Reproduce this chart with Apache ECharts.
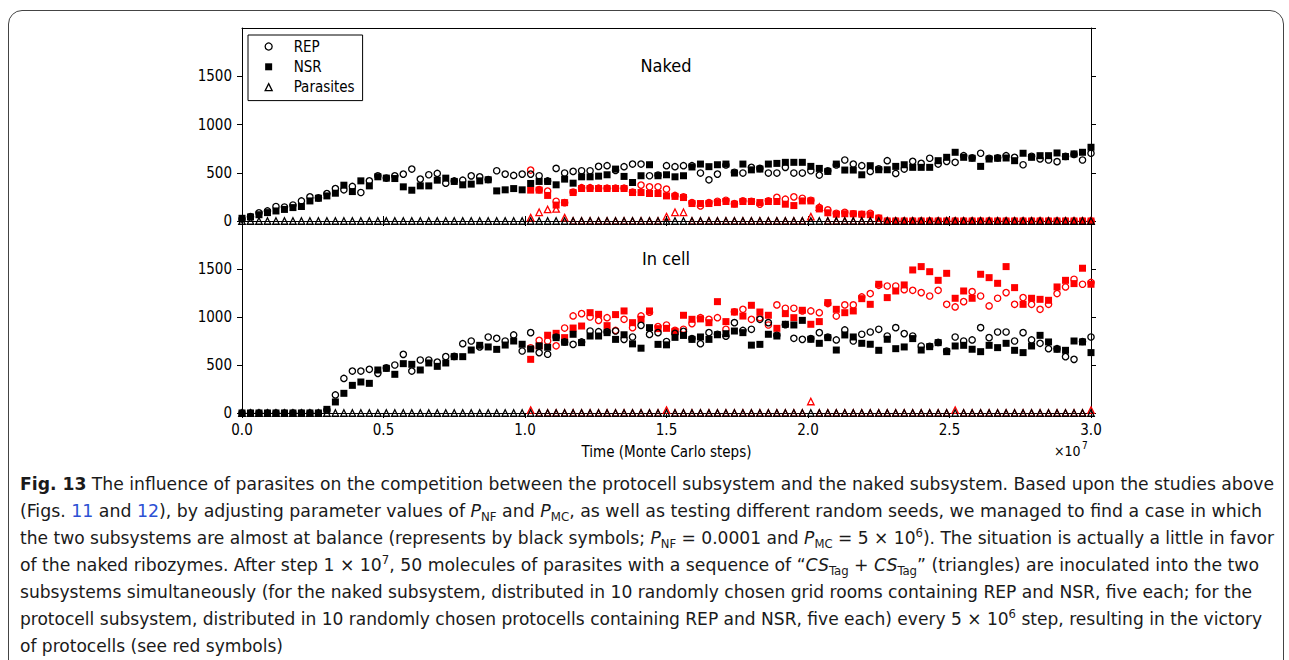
<!DOCTYPE html>
<html>
<head>
<meta charset="utf-8">
<script src="https://cdn.jsdelivr.net/npm/echarts@6.0.0/dist/echarts.min.js"></script>
<style>
  html, body { margin: 0; padding: 0; background: #fff; width: 1289px; height: 660px; overflow: hidden; }
  #frame { position: absolute; left: 8px; top: 10px; width: 1274px; height: 700px; border: 1.5px solid #444; border-radius: 14px; }
  #chart { position: absolute; left: 0; top: 0; width: 1289px; height: 470px; }
  #cap { position: absolute; left: 20px; top: 0; font-family: 'DejaVu Sans Condensed', 'DejaVu Sans', sans-serif; font-size: 18.5px; color: #1a1a1a; }
  .ln { position: absolute; left: 0; white-space: nowrap; line-height: 20px; height: 20px; transform-origin: 0 50%; }
  .ln b { font-weight: bold; }
  .ln a { color: #2c50d4; text-decoration: none; }
  .ln sub, .ln sup { font-size: 0.68em; line-height: 0; }
  .ln sub { vertical-align: -0.35em; }
  .ln sup { vertical-align: 0.55em; }
</style>
</head>
<body>
<div id="frame"></div>
<div id="chart"></div>
<div id="cap">
  <div class="ln" data-w="1254" style="top:474px"><b>Fig. 13</b> The influence of parasites on the competition between the protocell subsystem and the naked subsystem. Based upon the studies above</div>
  <div class="ln" data-w="1242" style="top:501px">(Figs. <a>11</a> and <a>12</a>), by adjusting parameter values of <i>P</i><sub>NF</sub> and <i>P</i><sub>MC</sub>, as well as testing different random seeds, we managed to find a case in which</div>
  <div class="ln" data-w="1254" style="top:528px">the two subsystems are almost at balance (represents by black symbols; <i>P</i><sub>NF</sub> = 0.0001 and <i>P</i><sub>MC</sub> = 5 × 10<sup>6</sup>). The situation is actually a little in favor</div>
  <div class="ln" data-w="1239" style="top:555px">of the naked ribozymes. After step 1 × 10<sup>7</sup>, 50 molecules of parasites with a sequence of “<i>CS</i><sub>Tag</sub> + <i>CS</i><sub>Tag</sub>” (triangles) are inoculated into the two</div>
  <div class="ln" data-w="1232" style="top:582px">subsystems simultaneously (for the naked subsystem, distributed in 10 randomly chosen grid rooms containing REP and NSR, five each; for the</div>
  <div class="ln" data-w="1242" style="top:609px">protocell subsystem, distributed in 10 randomly chosen protocells containing REP and NSR, five each) every 5 × 10<sup>6</sup> step, resulting in the victory</div>
  <div class="ln" data-w="263" style="top:636px">of protocells (see red symbols)</div>
</div>
<script>
// ---------------- DATA ----------------
// Samples every 3e5 Monte Carlo steps (x axis in units of 1e7), k = 0..100
const SAMPLE_STEP = 0.03;       // ×1e7
const N_SAMPLES = 101;
const INOCULATION_INDEX = 34;   // first sample of the "with parasites" (red) runs
const xTickLabels = ['0.0', '0.5', '1.0', '1.5', '2.0', '2.5', '3.0'];
const yTickLabels = ['0', '500', '1000', '1500'];

// Naked subsystem, no parasites (black)
const nakedREP = [20,45,85,104,150,145,166,208,250,240,284,336,323,358,295,416,468,445,468,486,538,434,479,493,392,415,423,468,458,430,521,486,472,486,
  486,469,415,545,497,514,521,521,566,573,525,563,590,590,469,475,573,563,573,573,497,427,486,580,505,497,556,545,497,497,556,497,497,
  521,476,520,580,632,590,573,514,540,625,493,538,618,597,650,590,618,608,677,655,702,650,655,677,660,583,670,643,632,615,670,690,632,702];
const nakedNSR = [28,42,65,87,104,120,139,150,208,236,260,288,371,305,416,364,458,444,440,354,319,364,364,423,444,410,375,382,416,427,312,323,336,323,
  389,410,410,375,434,392,458,458,465,479,538,462,399,469,583,469,479,458,469,560,590,563,583,590,497,590,530,538,590,597,608,608,608,
  566,545,514,590,528,528,479,573,531,531,566,583,556,556,556,625,660,712,660,650,566,642,650,653,625,702,660,677,677,705,667,695,712,764];
const nakedPar = [0,0,0,0,0,0,0,0,0,0,0,0,0,0,0,0,0,0,0,0,0,0,0,0,0,0,0,0,0,0,0,0,0,0,
  0,0,0,0,0,0,0,0,0,0,0,0,0,0,0,0,0,0,0,0,0,0,0,0,0,0,0,0,0,0,0,0,0,
  0,0,0,0,0,0,0,0,0,0,0,0,0,0,0,0,0,0,0,0,0,0,0,0,0,0,0,0,0,0,0,0,0,0];

// Naked subsystem, parasites inoculated (red), from sample 34 on
const nakedREPp = [528,325,310,205,190,300,345,345,340,340,340,340,300,372,354,354,330,265,250,190,156,190,205,215,180,210,205,175,210,245,226,250,236,215,140,115,80,90,75,70,80,30,
  0,0,0,0,0,0,0,0,0,0,0,0,0,0,0,0,0,0,0,0,0,0,0,0,0];
const nakedNSRp = [320,320,265,165,190,295,337,337,337,337,337,337,295,295,285,285,260,255,243,181,181,181,191,202,174,202,202,191,202,202,174,160,208,208,125,85,70,75,75,70,65,30,
  0,0,0,0,0,0,0,0,0,0,0,0,0,0,0,0,0,0,0,0,0,0,0,0,0];
const nakedParp = [35,90,120,125,35,0,0,0,0,0,0,0,0,0,0,0,45,90,90,0,0,0,0,0,0,0,0,0,0,0,0,0,0,45,145,
  0,0,0,0,0,0,0,0,0,0,0,0,0,0,0,0,0,0,0,0,0,0,0,0,0,0,0,0,0,0,0,0];

// Protocell (in cell) subsystem, no parasites (black)
const cellREP = [0,0,0,0,0,0,0,0,0,0,30,188,360,437,437,455,413,470,500,611,437,552,552,530,587,590,722,750,688,792,778,750,813,646,
  837,629,612,790,740,715,740,854,847,845,854,767,792,913,819,837,745,830,850,775,722,837,820,800,941,860,872,976,941,810,920,778,767,
  775,837,790,761,865,750,820,844,872,802,889,827,802,698,695,735,645,792,750,761,889,785,844,844,750,837,761,726,670,670,587,559,745,792];
const cellNSR = [0,0,0,0,0,0,0,0,0,0,38,115,205,288,323,309,448,465,403,514,507,448,521,486,521,587,587,656,705,688,663,708,750,716,
  667,698,685,785,737,820,733,802,802,837,767,815,720,675,889,715,710,788,808,767,792,767,815,826,854,837,707,715,820,802,924,917,965,
  768,726,785,656,813,792,726,716,653,768,670,688,775,656,691,733,639,698,705,664,639,705,681,726,653,629,698,809,740,664,653,750,740,629];
const cellPar = [0,0,0,0,0,0,0,0,0,0,0,0,0,0,0,0,0,0,0,0,0,0,0,0,0,0,0,0,0,0,0,0,0,0,
  0,0,0,0,0,0,0,0,0,0,0,0,0,0,0,0,0,0,0,0,0,0,0,0,0,0,0,0,0,0,0,0,0,
  0,0,0,0,0,0,0,0,0,0,0,0,0,0,0,0,0,0,0,0,0,0,0,0,0,0,0,0,0,0,0,0,0,0];

// Protocell subsystem, parasites inoculated (red), from sample 34 on (k = 34 .. 100)
const cellREPp = [680,757,750,700,885,1011,1035,1000,965,993,860,976,889,1011,1050,900,
  917,861,872,931,993,976,993,872,1055,1080,976,993,917,1126,1091,1091,1063,1063,1045,1140,1010,1126,1126,1209,1244,1330,1323,1323,1285,1278,
  1254,1219,1278,1132,1105,1160,1264,1219,1115,1195,1254,1132,1202,1132,1080,1132,1244,1313,1393,1341,1360];
const cellNSRp = [559,700,810,830,785,885,906,1045,1028,910,1025,1063,941,976,1063,879,
  882,850,1018,976,980,941,1160,952,1052,1010,1122,1052,1018,882,1035,993,1070,924,952,1150,1080,1045,1063,1191,1132,1341,1202,1271,1334,1490,
  1525,1472,1382,1455,1195,1271,1195,1445,1410,1351,1525,1306,1132,1195,1184,1174,1313,1382,1348,1508,1341];
const cellParp = [
  30, 0,0,0,0,0, 0,0,0,0,0, 0,0,0,0,0,          // k 34..49
  30, 0,0,0,0,0, 0,0,0,0,0, 0,0,0,0,0, 0,       // k 50..66
  120, 0,0,0,0,0, 0,0,0,0,0, 0,0,0,0,0, 0,      // k 67..83
  30, 0,0,0,0,0, 0,0,0,0,0, 0,0,0,0,0,          // k 84..99
  30                                            // k 100
];

// ---------------- CHART ----------------
const FONT = "'DejaVu Sans Condensed', 'DejaVu Sans', sans-serif";
const RED = '#ff0000', BLACK = '#000000';
const time = Array.from({length: N_SAMPLES}, (_, k) => +(k * SAMPLE_STEP).toFixed(2));
const pts = (vals, offset) => vals.map((v, i) => [time[i + offset], v]);

function sc(name, gi, vals, offset, symbol, color, filled, size) {
  return {
    type: 'scatter', name, xAxisIndex: gi, yAxisIndex: gi, data: pts(vals, offset),
    symbol, symbolSize: size, clip: true, silent: true,
    itemStyle: filled ? {color: color, borderWidth: 0, opacity: 1}
                      : {color: 'rgba(0,0,0,0)', borderColor: color, borderWidth: 1.3, opacity: 1},
    emphasis: {disabled: true}
  };
}
function panel(gi, rep, nsr, par, repP, nsrP, parP) {
  return [
    sc('REP (parasites)', gi, repP, INOCULATION_INDEX, 'circle', RED, false, 6.3),
    sc('NSR (parasites)', gi, nsrP, INOCULATION_INDEX, 'rect', RED, true, 7),
    sc('Parasites (inoculated)', gi, parP, INOCULATION_INDEX, 'triangle', RED, false, 6.5),
    sc('REP', gi, rep, 0, 'circle', BLACK, false, 6.3),
    sc('NSR', gi, nsr, 0, 'rect', BLACK, true, 7),
    sc('Parasites', gi, par, 0, 'triangle', BLACK, false, 6.5)
  ];
}
function xAx(gi, pos, labels, ticks) {
  const a = {
    type: 'value', gridIndex: gi, position: pos, min: 0, max: 3, interval: 0.5,
    axisLine: {show: true, onZero: false, lineStyle: {color: '#000', width: 1}},
    axisTick: {show: ticks, inside: false, length: 5, lineStyle: {color: '#000', width: 1}},
    splitLine: {show: false},
    axisLabel: {show: labels, color: '#000', fontFamily: FONT, fontSize: 15, margin: 9,
                formatter: v => xTickLabels[Math.round(v / 0.5)]}
  };
  if (labels) {
    a.name = 'Time (Monte Carlo steps)';
    a.nameLocation = 'middle';
    a.nameGap = 31;
    a.nameTextStyle = {color: '#000', fontFamily: FONT, fontSize: 15};
  }
  return a;
}
function yAx(gi, pos, labels) {
  return {
    type: 'value', gridIndex: gi, position: pos, min: 0, max: 2000, interval: 500,
    axisLine: {show: true, onZero: false, lineStyle: {color: '#000', width: 1}},
    axisTick: {show: true, inside: false, length: 5, lineStyle: {color: '#000', width: 1}},
    splitLine: {show: false},
    axisLabel: {show: labels, showMaxLabel: false, color: '#000', fontFamily: FONT, fontSize: 15, margin: 10,
                formatter: v => (yTickLabels[Math.round(v / 500)] || '')}
  };
}

const chart = echarts.init(document.getElementById('chart'), null, {renderer: 'svg'});
chart.setOption({
  animation: false,
  backgroundColor: 'transparent',
  textStyle: {fontFamily: FONT, color: '#000'},
  grid: [
    {left: 242, top: 28, width: 849, height: 193, outerBoundsMode: 'none'},
    {left: 242, top: 221, width: 849, height: 192, outerBoundsMode: 'none'}
  ],
  xAxis: [xAx(0, 'bottom', false, true), xAx(1, 'bottom', true, true), xAx(0, 'top', false, false), xAx(1, 'top', false, true)],
  yAxis: [yAx(0, 'left', true), yAx(1, 'left', true), yAx(0, 'right', false), yAx(1, 'right', false)],
  legend: {
    data: ['REP', 'NSR', 'Parasites'], orient: 'vertical', left: 248, top: 35,
    padding: [4, 8, 6, 16.5], itemWidth: 7, itemHeight: 7, itemGap: 5.3,
    borderColor: '#000', borderWidth: 1, borderRadius: 0, backgroundColor: '#fff',
    selectedMode: false,
    itemStyle: {borderWidth: 1.3},
    textStyle: {fontFamily: FONT, fontSize: 15, color: '#000', padding: [0, 0, 0, 16.5]}
  },
  graphic: [
    {type: 'text', x: 666, y: 65, silent: true,
     style: {text: 'Naked', font: "18px " + FONT, fill: '#000', align: 'center', verticalAlign: 'middle'}},
    {type: 'text', x: 666, y: 258, silent: true,
     style: {text: 'In cell', font: "18px " + FONT, fill: '#000', align: 'center', verticalAlign: 'middle'}},
    {type: 'text', x: 1054, y: 451, silent: true,
     style: {text: '×10', font: "14px " + FONT, fill: '#000', align: 'left', verticalAlign: 'middle'}},
    {type: 'text', x: 1082, y: 445, silent: true,
     style: {text: '7', font: "10px " + FONT, fill: '#000', align: 'left', verticalAlign: 'middle'}}
  ],
  series: [].concat(
    panel(0, nakedREP, nakedNSR, nakedPar, nakedREPp, nakedNSRp, nakedParp),
    panel(1, cellREP, cellNSR, cellPar, cellREPp, cellNSRp, cellParp)
  )
});

// fit caption lines to the reference line lengths
document.querySelectorAll('.ln').forEach(el => {
  const w = el.getBoundingClientRect().width;
  const target = +el.dataset.w;
  if (w > 0) el.style.transform = 'scaleX(' + (target / w) + ')';
});
</script>
</body>
</html>
